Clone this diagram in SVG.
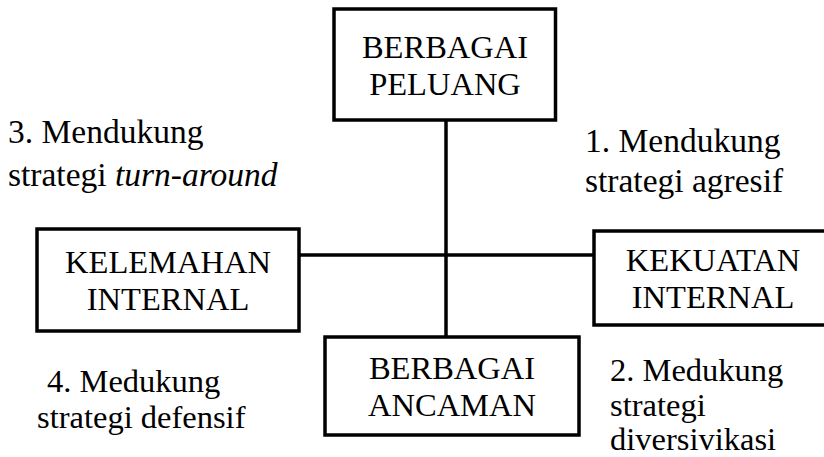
<svg xmlns="http://www.w3.org/2000/svg" width="824" height="457" viewBox="0 0 824 457">
<style>
.box{fill:#fff;stroke:#000;stroke-width:3.5}
.ln{stroke:#000;stroke-width:3.5;fill:none}
.bt{font-family:"Liberation Serif","Times New Roman",serif;font-size:32.5px;fill:#000;text-anchor:middle}
.lb{font-family:"Liberation Serif","Times New Roman",serif;font-size:32.5px;fill:#000}
.lg{font-size:33.5px}
</style>
<rect width="824" height="457" fill="#fff"/>
<g id="connectors">
<line class="ln" x1="446" y1="120" x2="446" y2="337"/>
<line class="ln" x1="299" y1="255" x2="594" y2="255"/>
</g>
<g id="peluang">
<rect class="box" x="334" y="9" width="221.5" height="111"/>
<text class="bt" x="445" y="58">BERBAGAI</text>
<text class="bt" x="445" y="95">PELUANG</text>
</g>
<g id="kelemahan">
<rect class="box" x="37" y="229" width="262" height="102"/>
<text class="bt" x="168" y="273">KELEMAHAN</text>
<text class="bt" x="168" y="310">INTERNAL</text>
</g>
<g id="kekuatan">
<rect class="box" x="594" y="231" width="238" height="94"/>
<text class="bt" x="713" y="271">KEKUATAN</text>
<text class="bt" x="713" y="308">INTERNAL</text>
</g>
<g id="ancaman">
<rect class="box" x="325" y="337" width="254" height="98"/>
<text class="bt" x="452" y="379">BERBAGAI</text>
<text class="bt" x="452" y="416">ANCAMAN</text>
</g>
<g id="label3">
<text class="lb lg" x="8" y="143">3. Mendukung</text>
<text class="lb lg" x="8" y="186">strategi <tspan font-style="italic">turn-around</tspan></text>
</g>
<g id="label1">
<text class="lb lg" x="585" y="152">1. Mendukung</text>
<text class="lb lg" x="585" y="192">strategi agresif</text>
</g>
<g id="label4">
<text class="lb" x="47" y="392">4. Medukung</text>
<text class="lb" x="37" y="428">strategi defensif</text>
</g>
<g id="label2">
<text class="lb" x="610" y="381">2. Medukung</text>
<text class="lb" x="610" y="416">strategi</text>
<text class="lb" x="610" y="450">diversivikasi</text>
</g>
</svg>
